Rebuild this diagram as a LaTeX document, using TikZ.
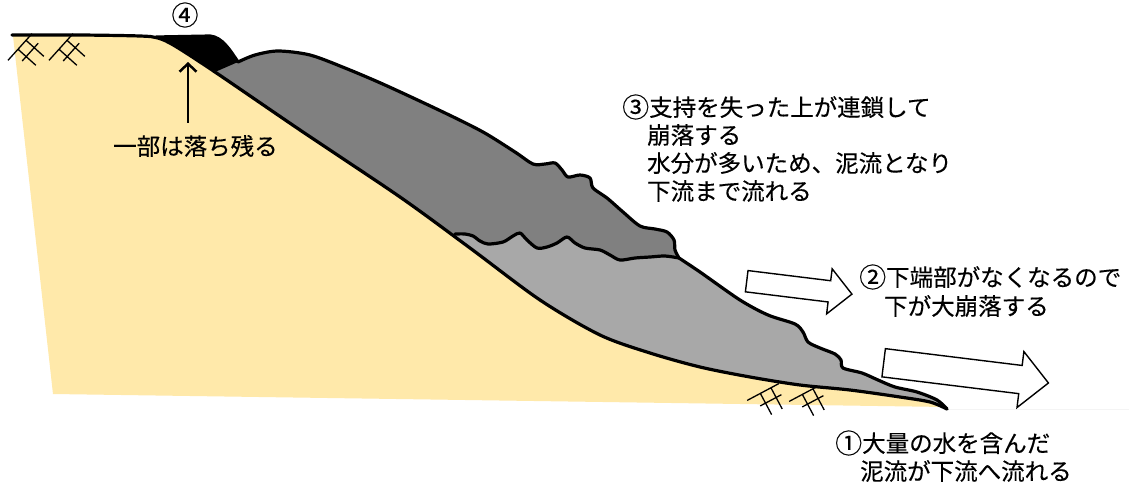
\documentclass[tikz,border=0pt]{standalone}
\usepackage{fontspec}
\setmainfont{Noto Sans CJK JP}
\newfontfamily\labelfont{Noto Sans CJK JP}[FakeBold=0.3]
\usetikzlibrary{shapes.arrows,arrows.meta}

\definecolor{soil}{RGB}{255,233,170}
\definecolor{mudlight}{RGB}{168,168,168}
\definecolor{muddark}{RGB}{128,128,128}

% original ground surface and slope (slip surface)
\newcommand\slopebase{plot[smooth,tension=0.5] coordinates {(12,35) (80,35) (140,36) (158,38) (175,46) (215,72) (300,130) (400,197) (470,248) (540,300) (600,335) (650,353) (700,367) (750,377) (800,385) (850,390) (900,397) (930,402) (947,409)}}

% upper outline of the sliding masses (remnant, upper mass, lower mass)
\newcommand\masstop{(156,37) -- (210,36) .. controls (222,37) and (230,50) .. (238,62) -- plot[smooth,tension=0.5] coordinates {(238,62) (255,55) (278,51) (310,55) (345,68) (385,85) (443,112) (483,132) (515,152) (533,164) (545,164) (555,163) (562,170) (568,177) (580,175) (590,178) (593,188) (607,198) (623,212) (640,226) (655,229) (667,232) (674,240) (675,250) (679,258)} -- plot[smooth,tension=0.5] coordinates {(679,258) (700,272) (740,300) (768,315) (795,324) (803,332) (808,342) (820,348) (835,354) (841,360) (843,368) (862,373) (878,380) (895,387) (917,392) (937,400) (947,409)}}

% boundary between the upper and the lower mass
\newcommand\slipline{plot[smooth,tension=0.5] coordinates {(455,234) (465,234) (473,236) (480,241) (488,244) (503,242) (513,236) (520,233) (527,240) (537,248) (547,247) (557,243) (567,237) (575,243) (585,248) (600,250) (610,255) (620,260) (635,258) (650,257) (665,256) (679,258)}}

% circled step numbers, set a little larger than the text
\newcommand\stepno[1]{\raisebox{-1.2pt}{\fontsize{27pt}{28pt}\selectfont #1}}

\begin{document}
\begin{tikzpicture}[x=1pt,y=-1pt,
  outline/.style={line width=3.2pt,line join=round,line cap=round},
  txt/.style={font=\labelfont\fontsize{23.5pt}{28pt}\selectfont,inner sep=0pt,anchor=west},
  flow/.style={single arrow,draw=black,fill=white,line width=1.4pt,
    single arrow head indent=0pt,rotate=-7,inner xsep=0pt,minimum width=1pt},
  groundmark/.pic={
    \draw[line width=1.3pt] (-18,0) -- (18,0) (-3,0) -- (-3,24)
      (9,0) -- (9,24) (-9,11) -- (15,11);
  },
]
\useasboundingbox (0,0) rectangle (1129,488);
\fill[white] (0,0) rectangle (1129,488);

% ground body
\fill[soil] \slopebase -- (947,407) -- (53,394) -- (13,36) -- cycle;

% ground symbols
\pic[rotate=48] at (20,47) {groundmark};
\pic[rotate=48] at (61,47) {groundmark};
\pic[rotate=28] at (763,392) {groundmark};
\pic[rotate=28] at (805,393) {groundmark};

% sliding masses, kept between the slope and their outline
\begin{scope}
  \clip \slopebase -- (1129,409) -- (1129,0) -- (0,0) -- (0,35) -- cycle;
  \clip \masstop -- (1129,409) -- (1129,488) -- (0,488) -- (0,37) -- cycle;
  \fill[mudlight] (0,0) rectangle (1129,488);
  \fill[muddark] \slipline -- (682,250) -- (682,0) -- (150,0) -- (150,120) -- (440,300) -- cycle;
  \fill[black] (238,62) -- (215,72) -- (200,120) -- (100,120) -- (100,0) -- (238,0) -- cycle;
\end{scope}

% outlines
\draw[outline] \slopebase;
\draw[outline] \masstop;
\draw[outline] \slipline;

% flow arrows
\node[flow,minimum height=106pt,inner ysep=10pt,single arrow head extend=12pt] (flowA) at (794,287) {};
\node[flow,minimum height=166pt,inner ysep=13.5pt,single arrow head extend=14pt] (flowB) at (959,372) {};

% labels
\node[txt,anchor=center] (num4) at (185,15) {\stepno{④}};
\node[txt] (lab4) at (113,146) {一部は落ち残る};
\coordinate (remnant) at (188,62);
\draw[line width=2.5pt,shorten <=12pt,-{Straight Barb[length=8pt,width=17pt]}] (lab4.north -| remnant) -- (remnant);

\node[txt] (lab3a) at (622,107) {\stepno{③}支持を失った上が連鎖して};
\node[txt] (lab3b) at (647,135) {崩落する};
\node[txt] (lab3c) at (647,163) {水分が多いため、泥流となり};
\node[txt] (lab3d) at (647,191) {下流まで流れる};

\node[txt] (lab2a) at (859,277) {\stepno{②}下端部がなくなるので};
\node[txt] (lab2b) at (884,306) {下が大崩落する};

\node[txt] (lab1a) at (835,443) {\stepno{①}大量の水を含んだ};
\node[txt] (lab1b) at (860,471) {泥流が下流へ流れる};
\end{tikzpicture}
\end{document}
